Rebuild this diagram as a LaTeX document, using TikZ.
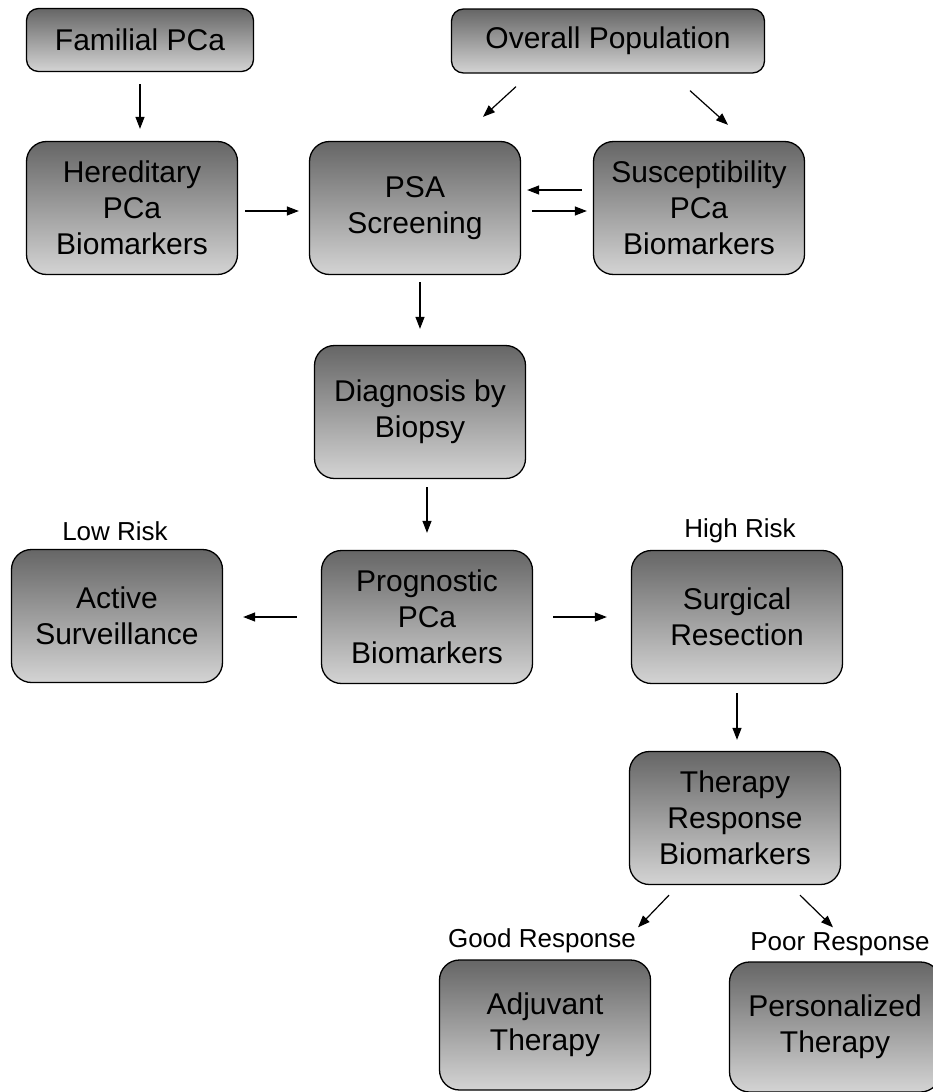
\documentclass[tikz,border=0pt]{standalone}
\usepackage{fontspec}
\setmainfont{Liberation Sans}
\usetikzlibrary{arrows.meta}
\begin{document}
\begin{tikzpicture}[x=1pt, y=-1pt,
        B/.style={draw, line width=1.3pt, rounded corners=20pt, minimum width=211pt,
          minimum height=133pt, inner sep=0pt, align=center,
          top color=black!60, bottom color=black!17, font=\fontsize{30}{36}\selectfont},
        T/.style={B, rounded corners=12pt, minimum height=63pt},
        L/.style={font=\fontsize{26}{28}\selectfont},
        A/.style={-{Triangle[length=12pt,width=9pt]}, line width=1.2pt}
      ]
      \useasboundingbox (0,0) rectangle (933,1092);
      \clip (0,0) rectangle (933,1092);
      \node [T, minimum width=227pt] (fam) at (140,40) {Familial PCa};
      \node [T, minimum width=313pt, minimum height=64pt] (pop) at (608,41) {Overall Population};
      \node [B] (her) at (132,208) {Hereditary\\PCa\\Biomarkers};
      \node [B] (psa) at (415,208) {PSA\\Screening};
      \node [B] (sus) at (699,208) {Susceptibility\\PCa\\Biomarkers};
      \node [B] (dia) at (420,412) {Diagnosis by\\Biopsy};
      \node [B] (act) at (117,616) {Active\\Surveillance};
      \node [B] (pro) at (427,617) {Prognostic\\PCa\\Biomarkers};
      \node [B] (sur) at (737,617) {Surgical\\Resection};
      \node [B] (the) at (735,818) {Therapy\\Response\\Biomarkers};
      \node [B, minimum height=130pt] (adj) at (545,1025) {Adjuvant\\Therapy};
      \node [B, minimum height=130pt] (per) at (835,1027) {Personalized\\Therapy};

      \node [L] (low) at (115,531) {Low Risk};
      \node [L] (high) at (740,531) {High Risk};
      \node [L] (good) at (542,941) {Good Response};
      \node [L] (poor) at (840,944) {Poor Response};

      \draw [A, shorten <=12pt, shorten >=12pt] (fam.south) -- (fam.south |- her.north);
      \draw [A] ([shift={(-92,13)}]pop.south) -- ([shift={(68,-24)}]psa.north);
      \draw [A] ([shift={(82,17)}]pop.south) -- ([shift={(29,-16)}]sus.north);
      \draw [A, shorten <=7pt, shorten >=10pt] ([shift={(0,3)}]her.east) -- ([shift={(0,3)}]psa.west);
      \draw [A, shorten <=11pt, shorten >=6pt] ([shift={(0,-18)}]sus.west) -- ([shift={(0,-18)}]psa.east);
      \draw [A, shorten <=11pt, shorten >=6pt] ([shift={(0,3)}]psa.east) -- ([shift={(0,3)}]sus.west);
      \draw [A, shorten <=7pt, shorten >=16pt] (dia.north |- psa.south) -- (dia.north);
      \draw [A, shorten <=8pt, shorten >=17pt] (pro.north |- dia.south) -- (pro.north);
      \draw [A, shorten <=24pt, shorten >=20pt] (pro.west) -- (pro.west -| act.east);
      \draw [A, shorten <=20pt, shorten >=24pt] (pro.east) -- (pro.east -| sur.west);
      \draw [A, shorten <=9pt, shorten >=11pt] (sur.south) -- (sur.south |- the.north);
      \draw [A] ([shift={(-66,10)}]the.south) -- ([shift={(93,-32)}]adj.north);
      \draw [A] ([shift={(65,10)}]the.south) -- ([shift={(-2,-34)}]per.north);
    \end{tikzpicture}
\end{document}
